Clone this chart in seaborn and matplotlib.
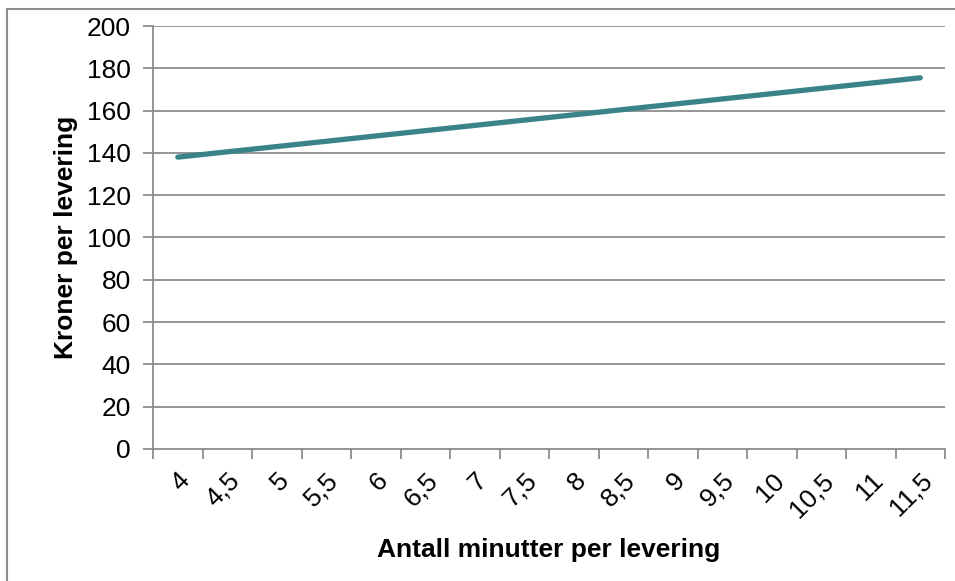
import matplotlib
matplotlib.use("Agg")
import matplotlib.pyplot as plt
import matplotlib.transforms as mtransforms
import seaborn as sns
import pandas as pd
import numpy as np
from matplotlib.patches import Rectangle

minutes = ["4", "4,5", "5", "5,5", "6", "6,5", "7", "7,5", "8", "8,5",
           "9", "9,5", "10", "10,5", "11", "11,5"]
kroner = [138, 140.5, 143, 145.5, 148, 150.5, 153, 155.5, 158, 160.5,
          163, 165.5, 168, 170.5, 173, 175.5]
y_ticks = [0, 20, 40, 60, 80, 100, 120, 140, 160, 180, 200]

sns.set_theme(style="white")
plt.rcParams['font.family'] = ['Liberation Sans', 'DejaVu Sans']

df = pd.DataFrame({"pos": np.arange(len(minutes)), "kroner": kroner})

fig = plt.figure(figsize=(9.55, 5.81), dpi=100)
ax = fig.add_axes([153/955, 1-449/581, (945-153)/955, (449-26)/581])

grid_c = "#8C8C8C"
for v in y_ticks[1:]:
    ax.axhline(v, color=grid_c, lw=1.3, zorder=1)

sns.lineplot(data=df, x="pos", y="kroner", ax=ax, color="#3A8489",
             lw=3.8, solid_capstyle="round", zorder=3)

fs = 19
ax.set_xlim(-0.5, len(minutes) - 0.5)
ax.set_ylim(0, 200)
ax.set_yticks(y_ticks)
ax.set_yticklabels([str(v) for v in y_ticks], fontsize=fs, color="black")
ax.set_xticks(np.arange(len(minutes)))
ax.set_xticklabels(minutes, fontsize=fs, rotation=45, ha="right",
                   va="top", rotation_mode="anchor", color="black")
offset = mtransforms.ScaledTranslation(-6/100, 0, fig.dpi_scale_trans)
for lbl in ax.get_xticklabels():
    lbl.set_transform(lbl.get_transform() + offset)
ax.set_xticks(np.arange(len(minutes) + 1) - 0.5, minor=True)
ax.tick_params(axis="x", which="major", length=0, pad=14)
ax.tick_params(axis="x", which="minor", length=7, width=1.3, color=grid_c,
               direction="out", bottom=True)
ax.tick_params(axis="y", length=7, width=1.3, color=grid_c, direction="out",
               left=True, pad=9)

for s in ["top", "right"]:
    ax.spines[s].set_visible(False)
for s in ["left", "bottom"]:
    ax.spines[s].set_color(grid_c)
    ax.spines[s].set_linewidth(1.3)

ax.set_xlabel("Antall minutter per levering", fontsize=fs,
              fontweight="bold", color="black", labelpad=12)
ax.set_ylabel("Kroner per levering", fontsize=fs, fontweight="bold",
              color="black", labelpad=6)

fig.patches.append(Rectangle((7/955, -0.05), 1.0, 1 - 9/581 + 0.05,
                             transform=fig.transFigure, fill=False,
                             edgecolor="#8C8C8C", lw=1.5))

fig.savefig("out.png", dpi=100)
